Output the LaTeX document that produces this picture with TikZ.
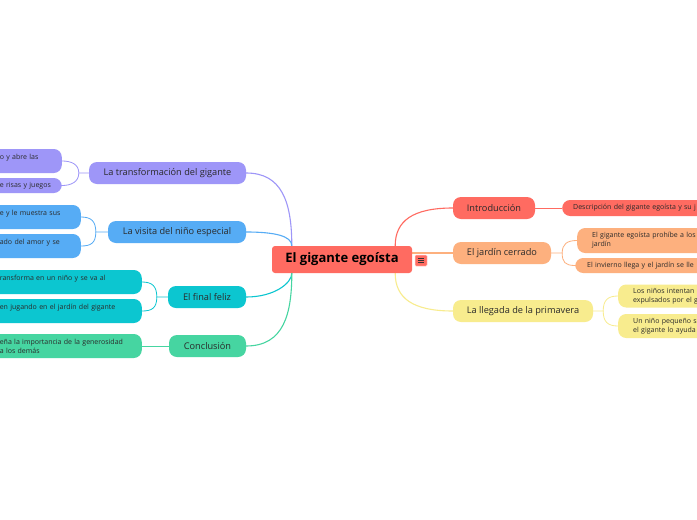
\documentclass[tikz,border=0pt]{standalone}
\usepackage{fontspec}
\setmainfont{Open Sans}
\usetikzlibrary{backgrounds,calc}
\definecolor{cRed}{HTML}{FF6B61}
\definecolor{cPur}{HTML}{9E96F8}
\definecolor{cBlu}{HTML}{56ACF5}
\definecolor{cTea}{HTML}{0CC6D0}
\definecolor{cGre}{HTML}{46D5A1}
\definecolor{cOra}{HTML}{FDB07E}
\definecolor{cYel}{HTML}{F8EC8E}
\definecolor{cTxt}{HTML}{2A2A2A}
\begin{document}
\begin{tikzpicture}[x=1pt,y=-1pt,
  mainbox/.style={rounded corners=8pt, minimum height=22pt, inner sep=0pt,
    font=\fontsize{9.2}{10}\selectfont, text=cTxt},
  subbox/.style={rounded corners=8pt, inner ysep=0pt, align=left,
    font=\fontsize{7}{9}\selectfont, text=cTxt},
  subL/.style={subbox, anchor=east, inner xsep=8pt},
  subR/.style={subbox, anchor=west, inner xsep=13pt, text width=200pt},
  conn/.style={line width=1.1pt},
  sconn/.style={line width=0.8pt}]
\path[use as bounding box] (0,0) rectangle (697,520);
\clip (0,0) rectangle (697,520);

% central
\node[fill=cRed, rounded corners=3pt, minimum width=140pt, minimum height=27pt, inner sep=0pt,
  font=\fontsize{13}{15}\selectfont\bfseries, text=black] (c) at (342,259.5) {El gigante egoísta};
\node[fill=cRed, draw=white!70!cRed, line width=0.5pt, rounded corners=1pt, minimum width=12pt, minimum height=11pt, inner sep=0pt,
  path picture={\draw[black!80, line width=0.8pt]
     ($(path picture bounding box.center)+(-3.2,-2.3)$) -- ++(6.4,0)
     ($(path picture bounding box.center)+(-3.2,0)$) -- ++(6.4,0)
     ($(path picture bounding box.center)+(-3.2,2.3)$) -- ++(6.4,0);}] (icon) at (421,260.5) {};

% left main
\node[mainbox, fill=cPur, minimum width=157pt] (trans) at (167.5,173) {La transformación del gigante};
\node[mainbox, fill=cBlu, minimum width=138pt] (visita) at (177,232) {La visita del niño especial};
\node[mainbox, fill=cTea, minimum width=78pt] (final) at (207,297) {El final feliz};
\node[mainbox, fill=cGre, minimum width=77pt] (concl) at (207.5,346) {Conclusión};

% right main
\node[mainbox, fill=cRed, minimum width=82pt] (intro) at (494,208) {Introducción};
\node[mainbox, fill=cOra, minimum width=98pt] (jardin) at (502,253) {El jardín cerrado};
\node[mainbox, fill=cYel, minimum width=140pt] (prim) at (523,311) {La llegada de la primavera};

% left subs
\node[subL, fill=cPur, text width=54pt, minimum height=24pt] (p1) at (62,161) {o y abre las\\\hbox{}};
\node[subL, fill=cPur, text width=54pt, minimum height=15pt] (p2) at (62,185.5) {e risas y juegos};
\node[subL, fill=cBlu, text width=73pt, minimum height=24pt] (b1) at (81,217) {e y le muestra sus\\\hbox{}};
\node[subL, fill=cBlu, text width=73pt, minimum height=24pt] (b2) at (81,246) {ado del amor y se\\\hbox{}};
\node[subL, fill=cTea, text width=134pt, minimum height=24pt] (t1) at (142,282) {ransforma en un niño y se va al\\\hbox{}};
\node[subL, fill=cTea, text width=134pt, minimum height=24pt] (t2) at (142,311) {en jugando en el jardín del gigante\\\hbox{}};
\node[subL, fill=cGre, text width=134pt, minimum height=24pt] (g1) at (142,346) {eña la importancia de la generosidad\\a los demás};

% right subs
\node[subR, fill=cRed, inner xsep=11pt, minimum height=16pt] (d1) at (562,208) {Descripción del gigante egoísta y su j};
\node[subR, fill=cOra, inner xsep=15pt, minimum height=25pt] (o1) at (577,240.5) {El gigante egoísta prohíbe a los\\jardín};
\node[subR, fill=cOra, inner xsep=12pt, minimum height=15pt] (o2) at (575,265.5) {El invierno llega y el jardín se lle};
\node[subR, fill=cYel, inner xsep=15pt, minimum height=23pt] (y1) at (618,296) {Los niños intentan\\expulsados por el g};
\node[subR, fill=cYel, inner xsep=15pt, minimum height=24pt] (y2) at (618,326) {Un niño pequeño s\\el gigante lo ayuda};

\begin{scope}[on background layer]
\fill[white] (0,0) rectangle (697,520);
\coordinate (cTL) at ($(c.north west)+(20,0)$);
\coordinate (cBL) at ($(c.south west)+(20,0)$);
\coordinate (cTR) at ($(c.north east)+(-17,0)$);
\coordinate (cBR) at ($(c.south east)+(-17,0)$);
\draw[conn, cPur] (trans.east) .. controls +(35,0) and +(0,-45) .. (cTL);
\draw[conn, cBlu] (visita.east) .. controls +(28,0) and +(0,-10) .. (cTL);
\draw[conn, cTea] (final.east) .. controls +(28,0) and +(0,10) .. (cBL);
\draw[conn, cGre] (concl.east) .. controls +(38,0) and +(0,40) .. (cBL);
\draw[conn, cRed] (intro.west) .. controls +(-40,0) and +(0,-25) .. (cTR);
\draw[conn, cOra] (jardin.west -| c.east) -- (jardin.west);
\draw[conn, cYel] (prim.west) .. controls +(-40,0) and +(0,25) .. (cBR);
% sub connectors
\coordinate (pj) at ($(trans.west)+(-10,0)$);
\draw[sconn, cPur] (trans.west) -- (pj) .. controls +(0,-9) and +(9,0) .. (p1.east);
\draw[sconn, cPur] (pj) .. controls +(0,9) and +(9,0) .. (p2.east);
\coordinate (bj) at ($(visita.west)+(-12,0)$);
\draw[sconn, cBlu] (visita.west) -- (bj) .. controls +(0,-11) and +(10,0) .. (b1.east);
\draw[sconn, cBlu] (bj) .. controls +(0,11) and +(10,0) .. (b2.east);
\coordinate (tj) at ($(final.west)+(-11,0)$);
\draw[sconn, cTea] (final.west) -- (tj) .. controls +(0,-11) and +(10,0) .. (t1.east);
\draw[sconn, cTea] (tj) .. controls +(0,11) and +(10,0) .. (t2.east);
\draw[sconn, cGre] (concl.west) -- (g1.east);
\draw[sconn, cRed] (intro.east) -- (d1.west);
\coordinate (oj) at ($(jardin.east)+(11,0)$);
\draw[sconn, cOra] (jardin.east) -- (oj) .. controls +(0,-9) and +(-10,0) .. (o1.west);
\draw[sconn, cOra] (oj) .. controls +(0,9) and +(-10,0) .. (o2.west);
\coordinate (yj) at ($(prim.east)+(10,0)$);
\draw[sconn, cYel] (prim.east) -- (yj) .. controls +(0,-11) and +(-10,0) .. (y1.west);
\draw[sconn, cYel] (yj) .. controls +(0,11) and +(-10,0) .. (y2.west);
\end{scope}
\end{tikzpicture}
\end{document}
